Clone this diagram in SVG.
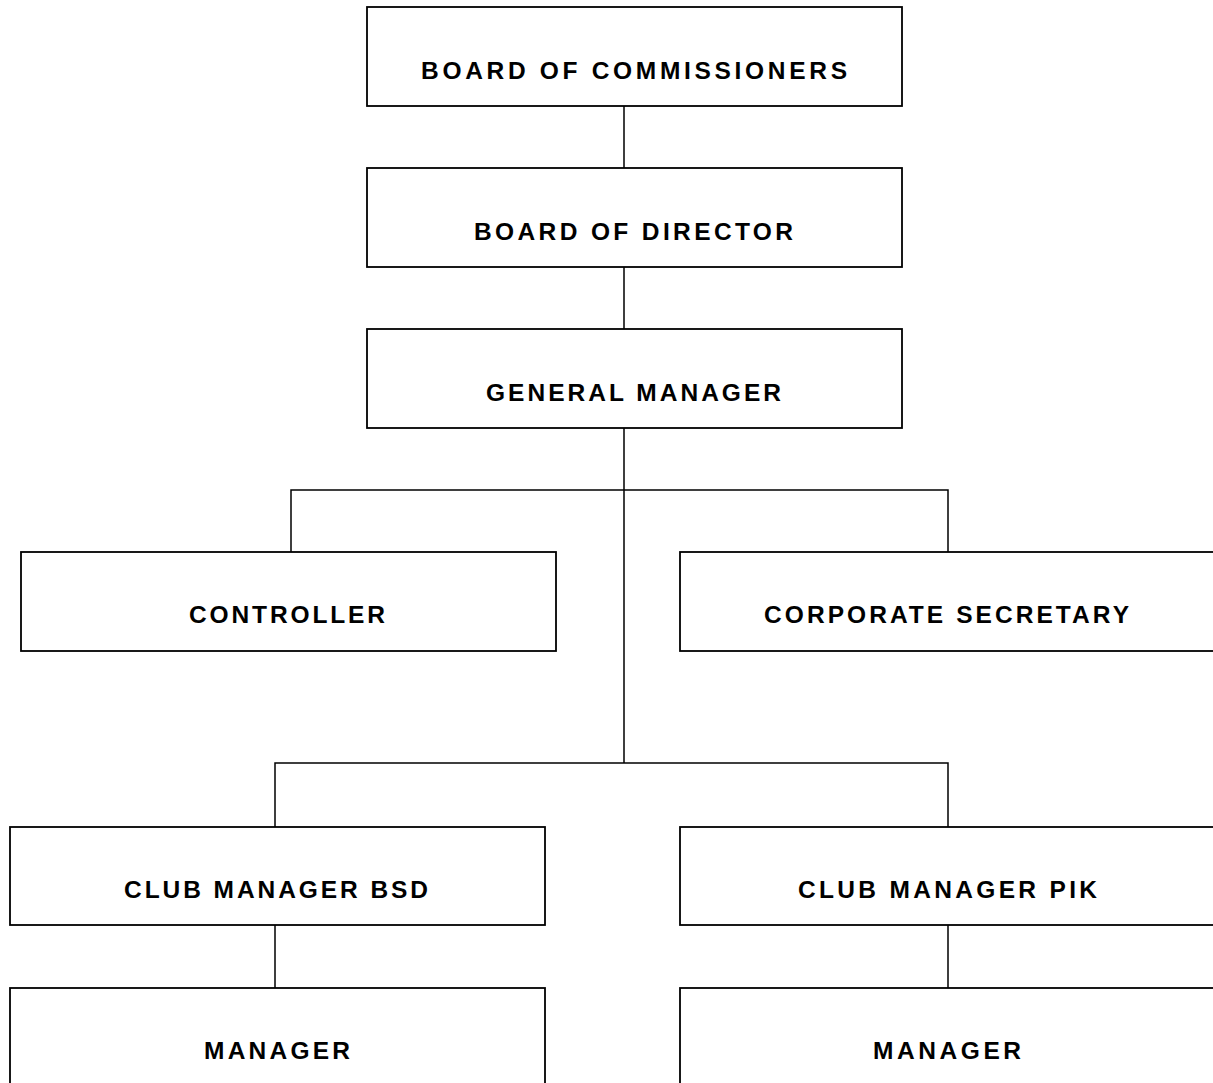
<svg xmlns="http://www.w3.org/2000/svg" width="1213" height="1083" viewBox="0 0 1213 1083">
<style>
.box{fill:#fff;stroke:#000;stroke-width:1.8}
.lbl{font-family:"Liberation Sans",Arial,sans-serif;font-weight:bold;font-size:24.5px;text-anchor:middle;fill:#000}
.con{fill:none;stroke:#000;stroke-width:1.5}
</style>
<rect width="1213" height="1083" fill="#fff"/>
<g id="connectors">
<path class="con" d="M624 106V168M624 267V329M624 428V763M291 552V490H948V552M275 827V763H948V827M275 925V988M948 925V988"/>
</g>
<g id="board-of-commissioners"><rect class="box" x="367" y="7" width="535" height="99"/><text class="lbl" x="634" y="79" textLength="426" lengthAdjust="spacing">BOARD OF COMMISSIONERS</text></g>
<g id="board-of-director"><rect class="box" x="367" y="168" width="535" height="99"/><text class="lbl" x="633.5" y="240" textLength="319" lengthAdjust="spacing">BOARD OF DIRECTOR</text></g>
<g id="general-manager"><rect class="box" x="367" y="329" width="535" height="99"/><text class="lbl" x="633.5" y="401" textLength="295" lengthAdjust="spacing">GENERAL MANAGER</text></g>
<g id="controller"><rect class="box" x="21" y="552" width="535" height="99"/><text class="lbl" x="287" y="623" textLength="196" lengthAdjust="spacing">CONTROLLER</text></g>
<g id="corporate-secretary"><rect class="box" x="680" y="552" width="540" height="99"/><text class="lbl" x="946.5" y="623" textLength="365" lengthAdjust="spacing">CORPORATE SECRETARY</text></g>
<g id="club-manager-bsd"><rect class="box" x="10" y="827" width="535" height="98"/><text class="lbl" x="276" y="898" textLength="304" lengthAdjust="spacing">CLUB MANAGER BSD</text></g>
<g id="club-manager-pik"><rect class="box" x="680" y="827" width="540" height="98"/><text class="lbl" x="947.5" y="898" textLength="299" lengthAdjust="spacing">CLUB MANAGER PIK</text></g>
<g id="manager-bsd"><rect class="box" x="10" y="988" width="535" height="110"/><text class="lbl" x="277" y="1059" textLength="146" lengthAdjust="spacing">MANAGER</text></g>
<g id="manager-pik"><rect class="box" x="680" y="988" width="540" height="110"/><text class="lbl" x="947" y="1059" textLength="148" lengthAdjust="spacing">MANAGER</text></g>
</svg>
